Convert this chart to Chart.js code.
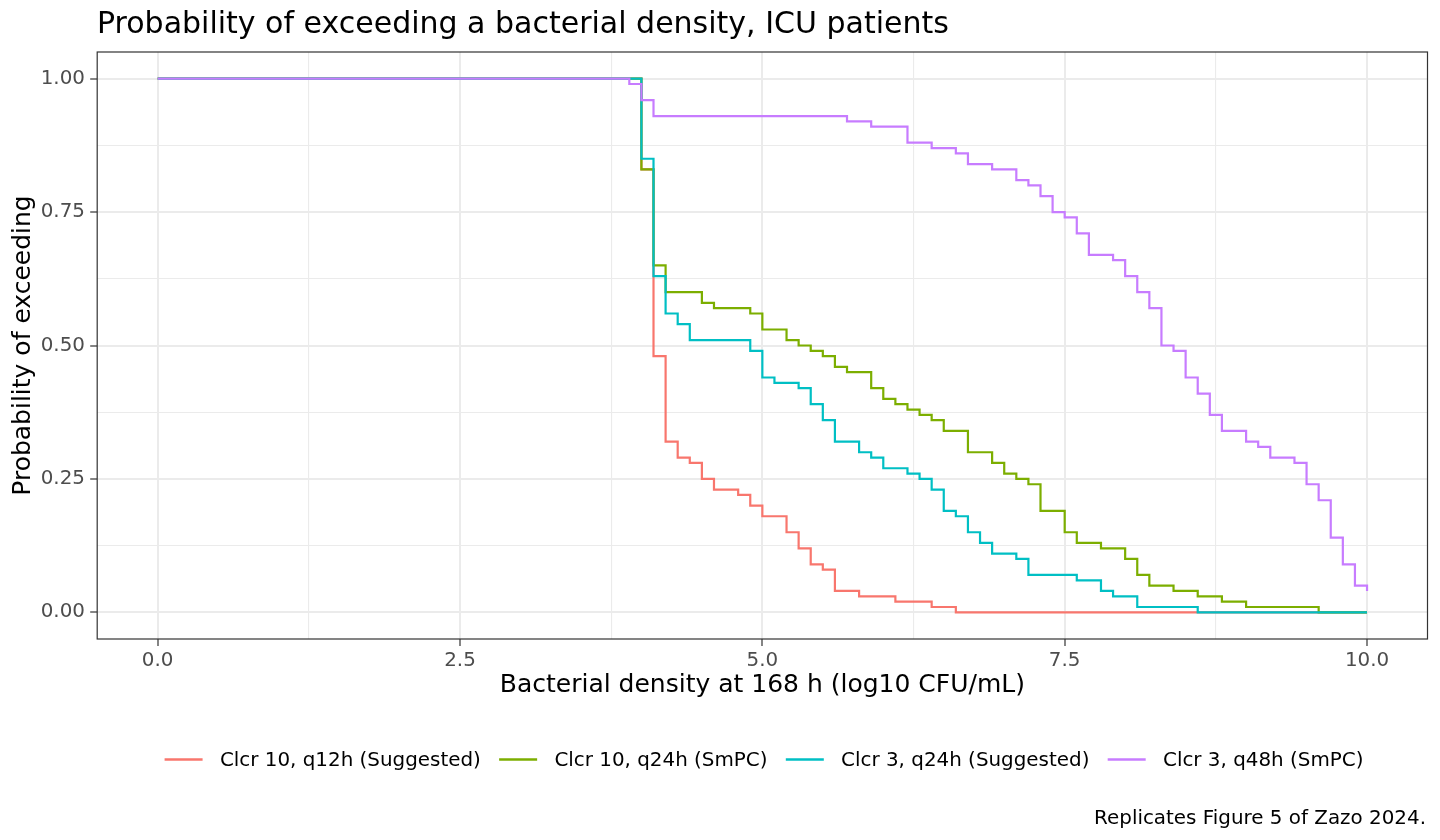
<!DOCTYPE html>
<html>
<head>
<meta charset="utf-8">
<title>Probability of exceeding a bacterial density, ICU patients</title>
<script src="https://cdn.jsdelivr.net/npm/chart.js@4.4.1/dist/chart.umd.min.js"></script>
<style>
  html, body { margin: 0; padding: 0; background: #ffffff; }
  #myChart { display: block; width: 1440px; height: 840px; }
</style>
</head>
<body>
<canvas id="myChart" width="1440" height="840"></canvas>
<script>
// series (step functions: x where the value changes, value after the step)
var seriesNames = ["Clcr 10, q12h (Suggested)", "Clcr 10, q24h (SmPC)", "Clcr 3, q24h (Suggested)", "Clcr 3, q48h (SmPC)"];
var seriesColors = ["#F8766D", "#7CAE00", "#00BFC4", "#C77CFF"];

var q12hX = [0, 4.0, 4.1, 4.2, 4.3, 4.4, 4.5, 4.6, 4.8, 4.9, 5.0, 5.2, 5.3, 5.4, 5.5, 5.6, 5.8, 6.1, 6.4, 6.6, 10.0];
var q12hY = [1.00, 0.83, 0.48, 0.32, 0.29, 0.28, 0.25, 0.23, 0.22, 0.20, 0.18, 0.15, 0.12, 0.09, 0.08, 0.04, 0.03, 0.02, 0.01, 0.00, 0.00];

var q24hX = [0, 4.0, 4.1, 4.2, 4.5, 4.6, 4.9, 5.0, 5.2, 5.3, 5.4, 5.5, 5.6, 5.7, 5.9, 6.0, 6.1, 6.2, 6.3, 6.4, 6.5, 6.7, 6.9, 7.0, 7.1, 7.2, 7.3, 7.5, 7.6, 7.8, 8.0, 8.1, 8.2, 8.4, 8.6, 8.8, 9.0, 9.6, 10.0];
var q24hY = [1.00, 0.83, 0.65, 0.60, 0.58, 0.57, 0.56, 0.53, 0.51, 0.50, 0.49, 0.48, 0.46, 0.45, 0.42, 0.40, 0.39, 0.38, 0.37, 0.36, 0.34, 0.30, 0.28, 0.26, 0.25, 0.24, 0.19, 0.15, 0.13, 0.12, 0.10, 0.07, 0.05, 0.04, 0.03, 0.02, 0.01, 0.00, 0.00];

var c3q24hX = [0, 4.0, 4.1, 4.2, 4.3, 4.4, 4.9, 5.0, 5.1, 5.3, 5.4, 5.5, 5.6, 5.8, 5.9, 6.0, 6.2, 6.3, 6.4, 6.5, 6.6, 6.7, 6.8, 6.9, 7.1, 7.2, 7.6, 7.8, 7.9, 8.1, 8.6, 10.0];
var c3q24hY = [1.00, 0.85, 0.63, 0.56, 0.54, 0.51, 0.49, 0.44, 0.43, 0.42, 0.39, 0.36, 0.32, 0.30, 0.29, 0.27, 0.26, 0.25, 0.23, 0.19, 0.18, 0.15, 0.13, 0.11, 0.10, 0.07, 0.06, 0.04, 0.03, 0.01, 0.00, 0.00];

var c3q48hX = [0, 3.9, 4.0, 4.1, 5.7, 5.9, 6.2, 6.4, 6.6, 6.7, 6.9, 7.1, 7.2, 7.3, 7.4, 7.5, 7.6, 7.7, 7.9, 8.0, 8.1, 8.2, 8.3, 8.4, 8.5, 8.6, 8.7, 8.8, 9.0, 9.1, 9.2, 9.4, 9.5, 9.6, 9.7, 9.8, 9.9, 10.0];
var c3q48hY = [1.00, 0.99, 0.96, 0.93, 0.92, 0.91, 0.88, 0.87, 0.86, 0.84, 0.83, 0.81, 0.80, 0.78, 0.75, 0.74, 0.71, 0.67, 0.66, 0.63, 0.60, 0.57, 0.50, 0.49, 0.44, 0.41, 0.37, 0.34, 0.32, 0.31, 0.29, 0.28, 0.24, 0.21, 0.14, 0.09, 0.05, 0.04];

// axes
var xTicks = [0, 2.5, 5, 7.5, 10];
var xTickLabels = ["0.0", "2.5", "5.0", "7.5", "10.0"];
var yTicks = [0, 0.25, 0.5, 0.75, 1];
var yTickLabels = ["0.00", "0.25", "0.50", "0.75", "1.00"];

var titleText = "Probability of exceeding a bacterial density, ICU patients";
var xTitle = "Bacterial density at 168 h (log10 CFU/mL)";
var yTitle = "Probability of exceeding";
var captionText = "Replicates Figure 5 of Zazo 2024.";

var FONT = '"DejaVu Sans", "Liberation Sans", sans-serif';
var SMALL = 19.9;

function toPoints(xs, ys) {
  return xs.map(function (x, i) { return { x: x, y: ys[i] }; });
}

// major ticks plus the minor line half way between them
function withMinor(ticks) {
  var out = [];
  for (var i = 0; i < ticks.length; i++) {
    out.push(ticks[i]);
    if (i < ticks.length - 1) out.push((ticks[i] + ticks[i + 1]) / 2);
  }
  return out;
}

var allX = [q12hX, q24hX, c3q24hX, c3q48hX];
var allY = [q12hY, q24hY, c3q24hY, c3q48hY];

var datasets = seriesNames.map(function (name, i) {
  return {
    label: name,
    data: toPoints(allX[i], allY[i]),
    borderColor: seriesColors[i],
    backgroundColor: seriesColors[i],
    borderWidth: 2.2,
    stepped: 'before',
    pointRadius: 0,
    fill: false,
    order: 4 - i
  };
});

var decor = {
  id: 'decor',
  afterDatasetsDraw: function (chart) {
    var ctx = chart.ctx, a = chart.chartArea;
    ctx.save();
    ctx.strokeStyle = '#333333';
    ctx.lineWidth = 1.2;
    ctx.strokeRect(a.left, a.top, a.right - a.left, a.bottom - a.top);
    ctx.restore();
  },
  afterDraw: function (chart) {
    var ctx = chart.ctx;
    ctx.save();
    ctx.fillStyle = '#000000';
    ctx.textAlign = 'left';
    ctx.textBaseline = 'alphabetic';
    ctx.font = '30px ' + FONT;
    ctx.fillText(titleText, 97, 33);

    // legend
    ctx.font = SMALL + 'px ' + FONT;
    ctx.textBaseline = 'middle';
    var keyW = 38, keyGap = 17.3, itemGap = 18.3;
    var widths = seriesNames.map(function (n) { return ctx.measureText(n).width; });
    var total = widths.reduce(function (s, w) { return s + w; }, 0) + seriesNames.length * (keyW + keyGap) + (seriesNames.length - 1) * itemGap;
    var x = 764 - total / 2, y = 759.5;
    for (var i = 0; i < seriesNames.length; i++) {
      ctx.strokeStyle = seriesColors[i];
      ctx.lineWidth = 2.3;
      ctx.beginPath();
      ctx.moveTo(x, y);
      ctx.lineTo(x + keyW, y);
      ctx.stroke();
      x += keyW + keyGap;
      ctx.fillText(seriesNames[i], x, y + 1);
      x += widths[i] + itemGap;
    }

    // caption
    ctx.textAlign = 'right';
    ctx.textBaseline = 'alphabetic';
    ctx.fillText(captionText, 1426, 824);
    ctx.restore();
  }
};

new Chart("myChart", {
  type: "line",
  data: { datasets: datasets },
  options: {
    responsive: false,
    animation: false,
    devicePixelRatio: 1,
    layout: { padding: { top: 52, right: 12.5, bottom: 131, left: 0 } },
    plugins: {
      legend: { display: false },
      title: { display: false },
      tooltip: { enabled: false }
    },
    scales: {
      x: {
        type: 'linear',
        min: -0.5,
        max: 10.5,
        afterBuildTicks: function (scale) {
          scale.ticks = withMinor(xTicks).map(function (v) { return { value: v }; });
        },
        afterFit: function (scale) { scale.height = 70; },
        ticks: {
          autoSkip: false,
          maxRotation: 0,
          padding: 2.5,
          color: '#4D4D4D',
          font: { family: FONT, size: SMALL },
          callback: function (v) {
            var k = xTicks.indexOf(v);
            return k < 0 ? '' : xTickLabels[k];
          }
        },
        grid: {
          color: '#EBEBEB',
          lineWidth: function (c) { return c.index % 2 ? 1.1 : 2; },
          tickColor: function (c) { return c.index % 2 ? 'rgba(0,0,0,0)' : '#333333'; },
          tickWidth: 1.2,
          tickLength: 7
        },
        border: { display: false },
        title: {
          display: true,
          text: xTitle,
          color: '#000000',
          font: { family: FONT, size: 25 },
          padding: { top: 0, bottom: 8.5 }
        }
      },
      y: {
        type: 'linear',
        min: -0.05,
        max: 1.05,
        afterBuildTicks: function (scale) {
          scale.ticks = withMinor(yTicks).map(function (v) { return { value: v }; });
        },
        afterFit: function (scale) { scale.width = 97.2; },
        ticks: {
          autoSkip: false,
          padding: 5.2,
          color: '#4D4D4D',
          font: { family: FONT, size: SMALL },
          callback: function (v) {
            var k = yTicks.indexOf(v);
            return k < 0 ? '' : yTickLabels[k];
          }
        },
        grid: {
          color: '#EBEBEB',
          lineWidth: function (c) { return c.index % 2 ? 1.1 : 2; },
          tickColor: function (c) { return c.index % 2 ? 'rgba(0,0,0,0)' : '#333333'; },
          tickWidth: 1.2,
          tickLength: 7
        },
        border: { display: false },
        title: {
          display: true,
          text: yTitle,
          color: '#000000',
          font: { family: FONT, size: 25 },
          padding: { top: 8, bottom: 0 }
        }
      }
    }
  },
  plugins: [decor]
});
</script>
</body>
</html>
